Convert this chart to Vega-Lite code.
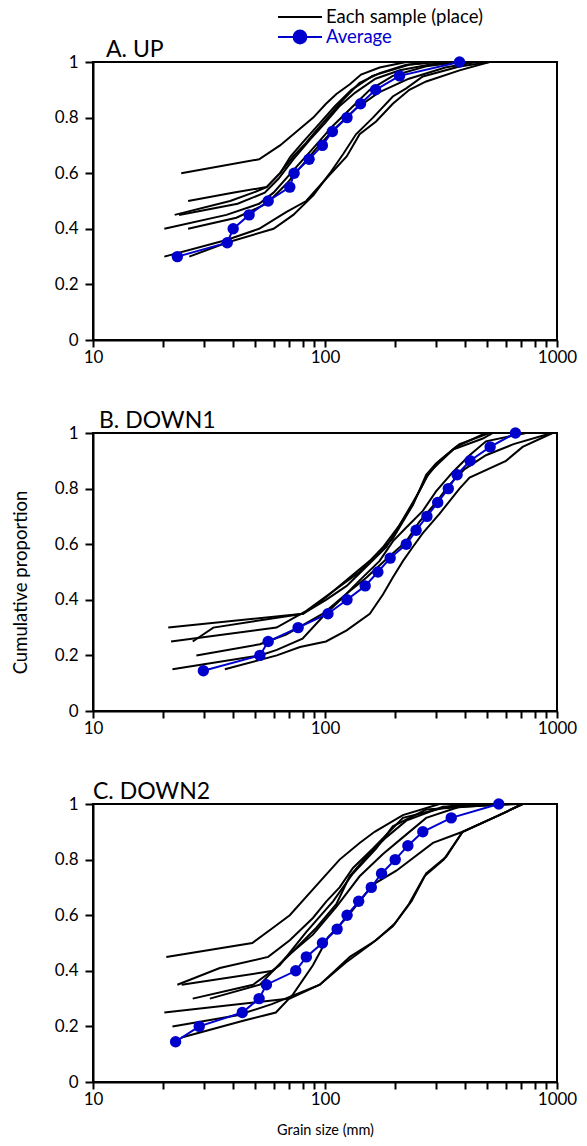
{
"$schema": "https://vega.github.io/schema/vega-lite/v6.json",
"padding": {"left": 10, "top": 7, "right": 0, "bottom": 0},
"spacing": 43,
"config": {
  "font": "Lato",
  "view": {"stroke": "black", "strokeWidth": 2},
  "axis": {"grid": false, "domainColor": "black", "domainWidth": 2, "tickColor": "black", "tickWidth": 2, "labelColor": "black", "labelFontSize": 17, "labelFont": "Lato", "titleFont": "Lato", "titleFontWeight": "normal", "titleFontSize": 14.5, "titleColor": "black"},
  "title": {"font": "Lato", "fontSize": 23, "fontWeight": "normal", "anchor": "start", "frame": "group", "offset": -9, "color": "black"}
},
"datasets": {
"A": [
{"sample":"a","size":24,"prop":0.6},{"sample":"a","size":52,"prop":0.65},{"sample":"a","size":64,"prop":0.7},{"sample":"a","size":89,"prop":0.8},{"sample":"a","size":101,"prop":0.85},{"sample":"a","size":112,"prop":0.885},{"sample":"a","size":128,"prop":0.92},{"sample":"a","size":143,"prop":0.955},{"sample":"a","size":172,"prop":0.98},{"sample":"a","size":224,"prop":1},
{"sample":"b","size":25.7,"prop":0.5},{"sample":"b","size":40,"prop":0.53},{"sample":"b","size":56,"prop":0.55},{"sample":"b","size":64,"prop":0.6},{"sample":"b","size":73,"prop":0.66},{"sample":"b","size":83,"prop":0.71},{"sample":"b","size":92,"prop":0.755},{"sample":"b","size":105,"prop":0.81},{"sample":"b","size":120,"prop":0.865},{"sample":"b","size":141,"prop":0.925},{"sample":"b","size":172,"prop":0.96},{"sample":"b","size":224,"prop":0.99},{"sample":"b","size":300,"prop":1},
{"sample":"c","size":22.5,"prop":0.45},{"sample":"c","size":39,"prop":0.5},{"sample":"c","size":49,"prop":0.53},{"sample":"c","size":56,"prop":0.55},{"sample":"c","size":64,"prop":0.6},{"sample":"c","size":71,"prop":0.66},{"sample":"c","size":80,"prop":0.71},{"sample":"c","size":95,"prop":0.78},{"sample":"c","size":110,"prop":0.84},{"sample":"c","size":130,"prop":0.9},{"sample":"c","size":160,"prop":0.95},{"sample":"c","size":230,"prop":0.99},{"sample":"c","size":300,"prop":1},
{"sample":"d","size":23.5,"prop":0.45},{"sample":"d","size":42,"prop":0.49},{"sample":"d","size":55,"prop":0.53},{"sample":"d","size":63,"prop":0.58},{"sample":"d","size":73,"prop":0.65},{"sample":"d","size":86,"prop":0.72},{"sample":"d","size":100,"prop":0.78},{"sample":"d","size":115,"prop":0.84},{"sample":"d","size":135,"prop":0.89},{"sample":"d","size":165,"prop":0.94},{"sample":"d","size":210,"prop":0.97},{"sample":"d","size":280,"prop":0.99},{"sample":"d","size":340,"prop":1},
{"sample":"e","size":20.3,"prop":0.4},{"sample":"e","size":37.6,"prop":0.45},{"sample":"e","size":52,"prop":0.49},{"sample":"e","size":60,"prop":0.53},{"sample":"e","size":73,"prop":0.61},{"sample":"e","size":89,"prop":0.69},{"sample":"e","size":108,"prop":0.77},{"sample":"e","size":128,"prop":0.83},{"sample":"e","size":156,"prop":0.9},{"sample":"e","size":196,"prop":0.95},{"sample":"e","size":273,"prop":0.985},{"sample":"e","size":380,"prop":1},
{"sample":"f","size":25.7,"prop":0.4},{"sample":"f","size":41.5,"prop":0.44},{"sample":"f","size":56,"prop":0.49},{"sample":"f","size":68,"prop":0.56},{"sample":"f","size":80,"prop":0.63},{"sample":"f","size":92,"prop":0.69},{"sample":"f","size":110,"prop":0.76},{"sample":"f","size":135,"prop":0.83},{"sample":"f","size":170,"prop":0.89},{"sample":"f","size":230,"prop":0.94},{"sample":"f","size":330,"prop":0.98},{"sample":"f","size":450,"prop":1},
{"sample":"g","size":20.3,"prop":0.3},{"sample":"g","size":37.6,"prop":0.36},{"sample":"g","size":52,"prop":0.4},{"sample":"g","size":68,"prop":0.46},{"sample":"g","size":83,"prop":0.5},{"sample":"g","size":101,"prop":0.58},{"sample":"g","size":124,"prop":0.66},{"sample":"g","size":141,"prop":0.74},{"sample":"g","size":166,"prop":0.786},{"sample":"g","size":196,"prop":0.85},{"sample":"g","size":231,"prop":0.9},{"sample":"g","size":273,"prop":0.93},{"sample":"g","size":380,"prop":0.97},{"sample":"g","size":512,"prop":1},
{"sample":"h","size":26,"prop":0.3},{"sample":"h","size":37.6,"prop":0.35},{"sample":"h","size":60,"prop":0.4},{"sample":"h","size":73,"prop":0.45},{"sample":"h","size":89,"prop":0.52},{"sample":"h","size":105,"prop":0.6},{"sample":"h","size":120,"prop":0.67},{"sample":"h","size":136,"prop":0.74},{"sample":"h","size":161,"prop":0.8},{"sample":"h","size":196,"prop":0.876},{"sample":"h","size":224,"prop":0.905},{"sample":"h","size":264,"prop":0.948},{"sample":"h","size":380,"prop":0.984},{"sample":"h","size":512,"prop":1},
{"sample":"avg","size":23.1,"prop":0.3},{"sample":"avg","size":37.9,"prop":0.35},{"sample":"avg","size":40.2,"prop":0.4},{"sample":"avg","size":47.1,"prop":0.45},{"sample":"avg","size":56.9,"prop":0.5},{"sample":"avg","size":70.5,"prop":0.55},{"sample":"avg","size":73.6,"prop":0.6},{"sample":"avg","size":85.4,"prop":0.65},{"sample":"avg","size":97.4,"prop":0.7},{"sample":"avg","size":107.6,"prop":0.75},{"sample":"avg","size":124.4,"prop":0.8},{"sample":"avg","size":142.3,"prop":0.85},{"sample":"avg","size":165.2,"prop":0.9},{"sample":"avg","size":209.6,"prop":0.95},{"sample":"avg","size":380,"prop":1}
],
"B": [
{"sample":"a","size":21.1,"prop":0.3},{"sample":"a","size":80.4,"prop":0.35},{"sample":"a","size":101,"prop":0.4},{"sample":"a","size":124,"prop":0.45},{"sample":"a","size":151,"prop":0.52},{"sample":"a","size":184,"prop":0.59},{"sample":"a","size":210,"prop":0.67},{"sample":"a","size":239,"prop":0.74},{"sample":"a","size":273,"prop":0.85},{"sample":"a","size":301,"prop":0.89},{"sample":"a","size":367,"prop":0.95},{"sample":"a","size":494,"prop":1},
{"sample":"b","size":21.7,"prop":0.25},{"sample":"b","size":61.8,"prop":0.3},{"sample":"b","size":83.1,"prop":0.36},{"sample":"b","size":108,"prop":0.43},{"sample":"b","size":141,"prop":0.5},{"sample":"b","size":178,"prop":0.59},{"sample":"b","size":210,"prop":0.67},{"sample":"b","size":255,"prop":0.79},{"sample":"b","size":282,"prop":0.86},{"sample":"b","size":356,"prop":0.94},{"sample":"b","size":479,"prop":0.98},{"sample":"b","size":529,"prop":1},
{"sample":"c","size":26.9,"prop":0.25},{"sample":"c","size":33,"prop":0.3},{"sample":"c","size":80.4,"prop":0.35},{"sample":"c","size":98,"prop":0.4},{"sample":"c","size":119.5,"prop":0.46},{"sample":"c","size":156,"prop":0.54},{"sample":"c","size":196,"prop":0.62},{"sample":"c","size":231,"prop":0.72},{"sample":"c","size":273,"prop":0.84},{"sample":"c","size":312,"prop":0.9},{"sample":"c","size":380,"prop":0.96},{"sample":"c","size":512,"prop":1},
{"sample":"d","size":27.9,"prop":0.2},{"sample":"d","size":52.4,"prop":0.24},{"sample":"d","size":68,"prop":0.275},{"sample":"d","size":98,"prop":0.35},{"sample":"d","size":123,"prop":0.42},{"sample":"d","size":151,"prop":0.48},{"sample":"d","size":186,"prop":0.55},{"sample":"d","size":224,"prop":0.61},{"sample":"d","size":255,"prop":0.68},{"sample":"d","size":301,"prop":0.75},{"sample":"d","size":340,"prop":0.81},{"sample":"d","size":400,"prop":0.87},{"sample":"d","size":494,"prop":0.92},{"sample":"d","size":650,"prop":0.96},{"sample":"d","size":950,"prop":1},
{"sample":"e","size":22,"prop":0.15},{"sample":"e","size":52.4,"prop":0.2},{"sample":"e","size":62,"prop":0.22},{"sample":"e","size":80,"prop":0.26},{"sample":"e","size":98,"prop":0.34},{"sample":"e","size":120,"prop":0.41},{"sample":"e","size":141,"prop":0.47},{"sample":"e","size":172,"prop":0.54},{"sample":"e","size":196,"prop":0.61},{"sample":"e","size":224,"prop":0.66},{"sample":"e","size":264,"prop":0.72},{"sample":"e","size":301,"prop":0.79},{"sample":"e","size":356,"prop":0.86},{"sample":"e","size":420,"prop":0.92},{"sample":"e","size":494,"prop":0.97},{"sample":"e","size":736,"prop":1},
{"sample":"f","size":37,"prop":0.15},{"sample":"f","size":62,"prop":0.2},{"sample":"f","size":78,"prop":0.23},{"sample":"f","size":101,"prop":0.25},{"sample":"f","size":124,"prop":0.29},{"sample":"f","size":156,"prop":0.35},{"sample":"f","size":178,"prop":0.42},{"sample":"f","size":196,"prop":0.48},{"sample":"f","size":217,"prop":0.54},{"sample":"f","size":239,"prop":0.59},{"sample":"f","size":264,"prop":0.64},{"sample":"f","size":312,"prop":0.71},{"sample":"f","size":380,"prop":0.8},{"sample":"f","size":420,"prop":0.84},{"sample":"f","size":603,"prop":0.9},{"sample":"f","size":711,"prop":0.95},{"sample":"f","size":957,"prop":1},
{"sample":"avg","size":29.9,"prop":0.145},{"sample":"avg","size":52.4,"prop":0.2},{"sample":"avg","size":56.9,"prop":0.25},{"sample":"avg","size":76.6,"prop":0.3},{"sample":"avg","size":103,"prop":0.35},{"sample":"avg","size":124.4,"prop":0.4},{"sample":"avg","size":149,"prop":0.45},{"sample":"avg","size":169,"prop":0.5},{"sample":"avg","size":191,"prop":0.55},{"sample":"avg","size":224,"prop":0.6},{"sample":"avg","size":247,"prop":0.65},{"sample":"avg","size":275,"prop":0.7},{"sample":"avg","size":306,"prop":0.75},{"sample":"avg","size":340,"prop":0.8},{"sample":"avg","size":371,"prop":0.85},{"sample":"avg","size":422,"prop":0.9},{"sample":"avg","size":515,"prop":0.95},{"sample":"avg","size":662,"prop":1}
],
"C": [
{"sample":"a","size":20.7,"prop":0.45},{"sample":"a","size":48.6,"prop":0.5},{"sample":"a","size":59.7,"prop":0.555},{"sample":"a","size":70.5,"prop":0.6},{"sample":"a","size":94.8,"prop":0.72},{"sample":"a","size":115.6,"prop":0.8},{"sample":"a","size":141,"prop":0.86},{"sample":"a","size":163.6,"prop":0.9},{"sample":"a","size":216.6,"prop":0.96},{"sample":"a","size":312,"prop":1},
{"sample":"b","size":23.1,"prop":0.35},{"sample":"b","size":35.2,"prop":0.41},{"sample":"b","size":56.9,"prop":0.45},{"sample":"b","size":70.5,"prop":0.51},{"sample":"b","size":88.7,"prop":0.59},{"sample":"b","size":101.4,"prop":0.65},{"sample":"b","size":115.6,"prop":0.7},{"sample":"b","size":132,"prop":0.77},{"sample":"b","size":161,"prop":0.84},{"sample":"b","size":216.6,"prop":0.95},{"sample":"b","size":380,"prop":1},
{"sample":"c","size":24.1,"prop":0.35},{"sample":"c","size":59.7,"prop":0.4},{"sample":"c","size":72.8,"prop":0.47},{"sample":"c","size":91.8,"prop":0.555},{"sample":"c","size":111.9,"prop":0.64},{"sample":"c","size":127.7,"prop":0.74},{"sample":"c","size":150.7,"prop":0.81},{"sample":"c","size":183.6,"prop":0.88},{"sample":"c","size":224,"prop":0.94},{"sample":"c","size":322,"prop":0.99},{"sample":"c","size":529,"prop":1},
{"sample":"d","size":26.9,"prop":0.3},{"sample":"d","size":49,"prop":0.35},{"sample":"d","size":63.8,"prop":0.42},{"sample":"d","size":83.1,"prop":0.54},{"sample":"d","size":108.3,"prop":0.65},{"sample":"d","size":132,"prop":0.75},{"sample":"d","size":166.4,"prop":0.84},{"sample":"d","size":196,"prop":0.92},{"sample":"d","size":273,"prop":0.98},{"sample":"d","size":603,"prop":1},
{"sample":"e","size":31.9,"prop":0.3},{"sample":"e","size":52.4,"prop":0.35},{"sample":"e","size":68.2,"prop":0.45},{"sample":"e","size":88.7,"prop":0.53},{"sample":"e","size":111.9,"prop":0.63},{"sample":"e","size":141,"prop":0.74},{"sample":"e","size":177.8,"prop":0.82},{"sample":"e","size":216.6,"prop":0.88},{"sample":"e","size":273,"prop":0.95},{"sample":"e","size":380,"prop":0.99},{"sample":"e","size":689,"prop":1},
{"sample":"f","size":20.3,"prop":0.25},{"sample":"f","size":70.5,"prop":0.3},{"sample":"f","size":95,"prop":0.35},{"sample":"f","size":128,"prop":0.45},{"sample":"f","size":166,"prop":0.51},{"sample":"f","size":200,"prop":0.57},{"sample":"f","size":236,"prop":0.65},{"sample":"f","size":273,"prop":0.75},{"sample":"f","size":333,"prop":0.81},{"sample":"f","size":392,"prop":0.9},{"sample":"f","size":564,"prop":0.96},{"sample":"f","size":711,"prop":1},
{"sample":"g","size":22,"prop":0.2},{"sample":"g","size":42,"prop":0.24},{"sample":"g","size":59,"prop":0.28},{"sample":"g","size":95,"prop":0.35},{"sample":"g","size":123,"prop":0.43},{"sample":"g","size":160,"prop":0.5},{"sample":"g","size":196,"prop":0.56},{"sample":"g","size":230,"prop":0.64},{"sample":"g","size":268,"prop":0.74},{"sample":"g","size":325,"prop":0.8},{"sample":"g","size":392,"prop":0.9},{"sample":"g","size":564,"prop":0.96},{"sample":"g","size":711,"prop":1},
{"sample":"h","size":24.1,"prop":0.16},{"sample":"h","size":44.4,"prop":0.22},{"sample":"h","size":61.4,"prop":0.25},{"sample":"h","size":72.8,"prop":0.315},{"sample":"h","size":88.7,"prop":0.42},{"sample":"h","size":103,"prop":0.52},{"sample":"h","size":123.5,"prop":0.59},{"sample":"h","size":161,"prop":0.71},{"sample":"h","size":203,"prop":0.76},{"sample":"h","size":292,"prop":0.86},{"sample":"h","size":392,"prop":0.9},{"sample":"h","size":564,"prop":0.96},{"sample":"h","size":711,"prop":1},
{"sample":"avg","size":22.7,"prop":0.145},{"sample":"avg","size":28.7,"prop":0.2},{"sample":"avg","size":44,"prop":0.25},{"sample":"avg","size":52,"prop":0.3},{"sample":"avg","size":55.9,"prop":0.35},{"sample":"avg","size":74.8,"prop":0.4},{"sample":"avg","size":83.1,"prop":0.45},{"sample":"avg","size":97.5,"prop":0.5},{"sample":"avg","size":112.8,"prop":0.55},{"sample":"avg","size":124.5,"prop":0.6},{"sample":"avg","size":139.7,"prop":0.65},{"sample":"avg","size":158.3,"prop":0.7},{"sample":"avg","size":175.3,"prop":0.75},{"sample":"avg","size":200.7,"prop":0.8},{"sample":"avg","size":227.6,"prop":0.85},{"sample":"avg","size":264,"prop":0.9},{"sample":"avg","size":350,"prop":0.95},{"sample":"avg","size":561,"prop":1}
]
},
"vconcat": [
{
  "title": {"text": "A. UP", "dx": 13},
  "width": 464, "height": 278,
  "data": {"name": "A"},
  "encoding": {
    "x": {"field": "size", "type": "quantitative", "scale": {"type": "log", "domain": [10, 1000]}, "title": null,
      "axis": {"values": [10,20,30,40,50,60,70,80,90,100,200,300,400,500,600,700,800,900,1000], "labelExpr": "(datum.value == 10 || datum.value == 100 || datum.value == 1000) ? datum.value : ''", "labelFlush": false, "labelOverlap": false, "tickSize": 7, "labelPadding": 2,
        "encode": {"ticks": {"update": {"y": {"signal": "(datum.value == 10 || datum.value == 100 || datum.value == 1000) ? -3 : 0"}, "y2": {"signal": "(datum.value == 10 || datum.value == 100 || datum.value == 1000) ? 7 : 4"}}}}}},
    "y": {"field": "prop", "type": "quantitative", "scale": {"domain": [0, 1]}, "title": null,
      "axis": {"values": [0, 0.2, 0.4, 0.6, 0.8, 1], "format": "~g", "tickSize": 8, "labelPadding": 7}}
  },
  "layer": [
    {"transform": [{"filter": "datum.sample != 'avg'"}], "mark": {"type": "line", "strokeWidth": 2},
     "encoding": {"detail": {"field": "sample"},
       "color": {"datum": "Each sample (place)", "type": "nominal", "scale": {"domain": ["Each sample (place)", "Average"], "range": ["black", "#0000CC"]},
         "legend": {"orient": "none", "legendX": 184, "legendY": -55, "title": null, "symbolSize": 1936, "symbolStrokeWidth": 2, "labelFontSize": 18.5, "labelFont": "Lato", "labelOffset": 3, "labelLimit": 300, "clipHeight": 20, "rowPadding": 0, "padding": 0,
           "encode": {"symbols": {"update": {"shape": {"signal": "datum.value === 'Average' ? 'M-1,0H1M0.29,0A0.29,0.29 0 1,1 -0.29,0A0.29,0.29 0 1,1 0.29,0Z' : 'M-1,0H1'"}, "fill": {"signal": "datum.value === 'Average' ? '#0000CC' : 'transparent'"}}},
                      "labels": {"update": {"fill": {"signal": "datum.value === 'Average' ? '#0000CC' : 'black'"}}}}}}}},
    {"transform": [{"filter": "datum.sample == 'avg'"}], "mark": {"type": "line", "strokeWidth": 2, "color": "#0000CC"}, "encoding": {}},
    {"transform": [{"filter": "datum.sample == 'avg'"}], "mark": {"type": "circle", "size": 130, "opacity": 1, "color": "#0000CC"}}
  ]
},
{
  "title": {"text": "B. DOWN1", "dx": 6},
  "width": 464, "height": 278,
  "data": {"name": "B"},
  "encoding": {
    "x": {"field": "size", "type": "quantitative", "scale": {"type": "log", "domain": [10, 1000]}, "title": null,
      "axis": {"values": [10,20,30,40,50,60,70,80,90,100,200,300,400,500,600,700,800,900,1000], "labelExpr": "(datum.value == 10 || datum.value == 100 || datum.value == 1000) ? datum.value : ''", "labelFlush": false, "labelOverlap": false, "tickSize": 7, "labelPadding": 2,
        "encode": {"ticks": {"update": {"y": {"signal": "(datum.value == 10 || datum.value == 100 || datum.value == 1000) ? -3 : 0"}, "y2": {"signal": "(datum.value == 10 || datum.value == 100 || datum.value == 1000) ? 7 : 4"}}}}}},
    "y": {"field": "prop", "type": "quantitative", "scale": {"domain": [0, 1]}, "title": "Cumulative proportion",
      "axis": {"values": [0, 0.2, 0.4, 0.6, 0.8, 1], "format": "~g", "tickSize": 8, "labelPadding": 7, "titlePadding": 24, "titleFontSize": 18.5, "titleY": 149}}
  },
  "layer": [
    {"transform": [{"filter": "datum.sample != 'avg'"}], "mark": {"type": "line", "strokeWidth": 2, "color": "black"}, "encoding": {"detail": {"field": "sample"}}},
    {"transform": [{"filter": "datum.sample == 'avg'"}], "mark": {"type": "line", "strokeWidth": 2, "color": "#0000CC"}, "encoding": {}},
    {"transform": [{"filter": "datum.sample == 'avg'"}], "mark": {"type": "circle", "size": 130, "opacity": 1, "color": "#0000CC"}}
  ]
},
{
  "title": {"text": "C. DOWN2", "dx": 0},
  "width": 464, "height": 278,
  "data": {"name": "C"},
  "encoding": {
    "x": {"field": "size", "type": "quantitative", "scale": {"type": "log", "domain": [10, 1000]}, "title": "Grain size (mm)",
      "axis": {"values": [10,20,30,40,50,60,70,80,90,100,200,300,400,500,600,700,800,900,1000], "labelExpr": "(datum.value == 10 || datum.value == 100 || datum.value == 1000) ? datum.value : ''", "labelFlush": false, "labelOverlap": false, "tickSize": 7, "labelPadding": 2, "titlePadding": 16,
        "encode": {"ticks": {"update": {"y": {"signal": "(datum.value == 10 || datum.value == 100 || datum.value == 1000) ? -3 : 0"}, "y2": {"signal": "(datum.value == 10 || datum.value == 100 || datum.value == 1000) ? 7 : 4"}}}}}},
    "y": {"field": "prop", "type": "quantitative", "scale": {"domain": [0, 1]}, "title": null,
      "axis": {"values": [0, 0.2, 0.4, 0.6, 0.8, 1], "format": "~g", "tickSize": 8, "labelPadding": 7}}
  },
  "layer": [
    {"transform": [{"filter": "datum.sample != 'avg'"}], "mark": {"type": "line", "strokeWidth": 2, "color": "black"}, "encoding": {"detail": {"field": "sample"}}},
    {"transform": [{"filter": "datum.sample == 'avg'"}], "mark": {"type": "line", "strokeWidth": 2, "color": "#0000CC"}, "encoding": {}},
    {"transform": [{"filter": "datum.sample == 'avg'"}], "mark": {"type": "circle", "size": 130, "opacity": 1, "color": "#0000CC"}}
  ]
}
]
}
